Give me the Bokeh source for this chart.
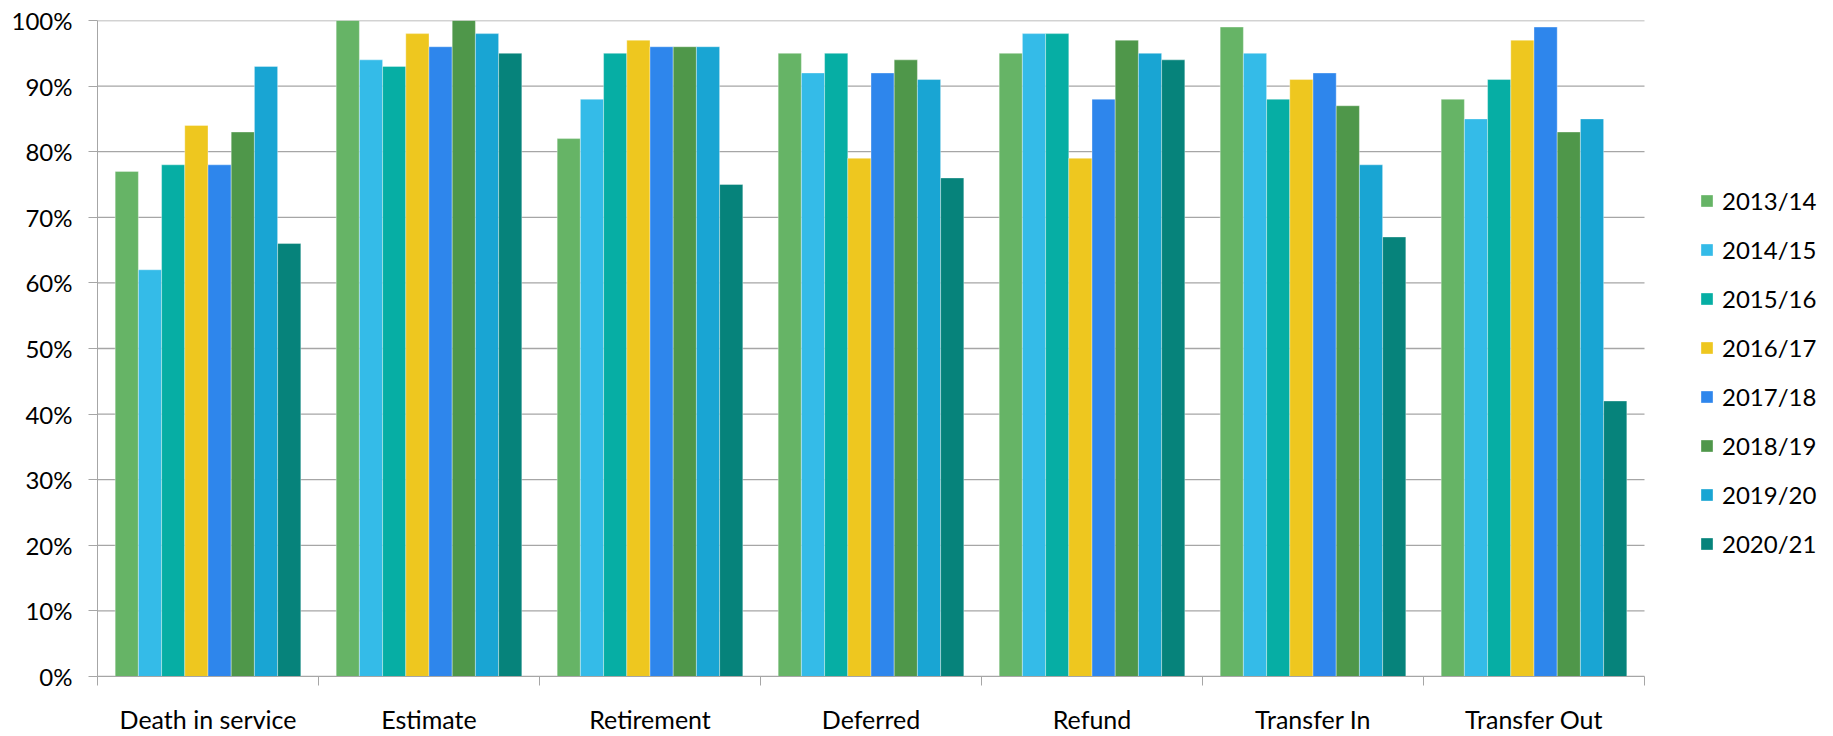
from bokeh.plotting import figure
from bokeh.models import Range1d, FixedTicker, Legend, LegendItem, ColumnDataSource
from bokeh.embed import file_html
from bokeh.resources import INLINE

categories = ["Death in service", "Estimate", "Retirement", "Deferred", "Refund", "Transfer In", "Transfer Out"]
years = ["2013/14", "2014/15", "2015/16", "2016/17", "2017/18", "2018/19", "2019/20", "2020/21"]
colors = ["#66B466", "#34BBE8", "#06AEA4", "#EEC71F", "#2E86EC", "#4F974A", "#19A5D3", "#06837B"]

v_2013_14 = [77, 100, 82, 95, 95, 99, 88]
v_2014_15 = [62, 94, 88, 92, 98, 95, 85]
v_2015_16 = [78, 93, 95, 95, 98, 88, 91]
v_2016_17 = [84, 98, 97, 79, 79, 91, 97]
v_2017_18 = [78, 96, 96, 92, 88, 92, 99]
v_2018_19 = [83, 100, 96, 94, 97, 87, 83]
v_2019_20 = [93, 98, 96, 91, 95, 78, 85]
v_2020_21 = [66, 95, 75, 76, 94, 67, 42]
series = [v_2013_14, v_2014_15, v_2015_16, v_2016_17, v_2017_18, v_2018_19, v_2019_20, v_2020_21]

y_ticks = list(range(0, 101, 10))

FONT = "Lato"
GRID = "#A6A6A6"

W, H = 1833, 736
LEFT = 97
CAT_PX = 221.0           # pixel width of one category
n_cat = len(categories)
x_end = (W - LEFT) / CAT_PX   # frame extends to the right edge, leaving room for the legend

p = figure(width=W, height=H, output_backend="svg", toolbar_location=None,
           x_range=Range1d(0, x_end), y_range=Range1d(0, 100),
           min_border_left=LEFT, min_border_right=0, min_border_top=20, min_border_bottom=50)
p.outline_line_color = None
p.xgrid.visible = False
p.ygrid.visible = False

# horizontal gridlines limited to the category area
p.segment(x0=[0] * len(y_ticks), x1=[n_cat] * len(y_ticks), y0=y_ticks, y1=y_ticks,
          line_color=GRID, line_width=1.3)

bar_w = 0.105
n = len(series)
items = []
for j, (vals, col, yr) in enumerate(zip(series, colors, years)):
    xs = [i + 0.5 + (j - (n - 1) / 2) * bar_w for i in range(n_cat)]
    src = ColumnDataSource(dict(x=xs, top=vals))
    r = p.vbar(x="x", top="top", bottom=0, width=bar_w, source=src,
               fill_color=col, line_color="white", line_alpha=0.35, line_width=1)
    items.append(LegendItem(label=yr, renderers=[r]))

# y axis
p.yaxis.ticker = FixedTicker(ticks=y_ticks)
p.yaxis.major_label_overrides = {t: f"{t}%" for t in y_ticks}
p.yaxis.major_tick_out = 9
p.yaxis.major_tick_in = 0
p.yaxis.minor_tick_out = 0
p.yaxis.minor_tick_in = 0
p.yaxis.axis_line_color = GRID
p.yaxis.major_tick_line_color = GRID
p.yaxis.major_label_text_font = FONT
p.yaxis.major_label_text_font_size = "24px"
p.yaxis.major_label_text_color = "#000000"
p.yaxis.major_label_standoff = 16

# x axis
centers = [i + 0.5 for i in range(n_cat)]
p.xaxis.ticker = FixedTicker(ticks=centers, minor_ticks=list(range(n_cat + 1)))
p.xaxis.major_label_overrides = {c: name for c, name in zip(centers, categories)}
p.xaxis.bounds = (0, n_cat)
p.xaxis.major_tick_out = 0
p.xaxis.major_tick_in = 0
p.xaxis.minor_tick_out = 9
p.xaxis.minor_tick_in = 0
p.xaxis.minor_tick_line_color = GRID
p.xaxis.axis_line_color = GRID
p.xaxis.major_label_text_font = FONT
p.xaxis.major_label_text_font_size = "25px"
p.xaxis.major_label_text_color = "#000000"
p.xaxis.major_label_standoff = 18

legend = Legend(items=items, location=(1602, 118), orientation="vertical",
                padding=0, margin=0, spacing=20,
                glyph_width=15, glyph_height=15, label_height=15, label_standoff=8,
                label_text_font=FONT, label_text_font_size="24px", label_text_color="#000000",
                border_line_color=None, background_fill_alpha=0)
p.add_layout(legend)

open("out.html", "w").write(file_html(p, INLINE))
